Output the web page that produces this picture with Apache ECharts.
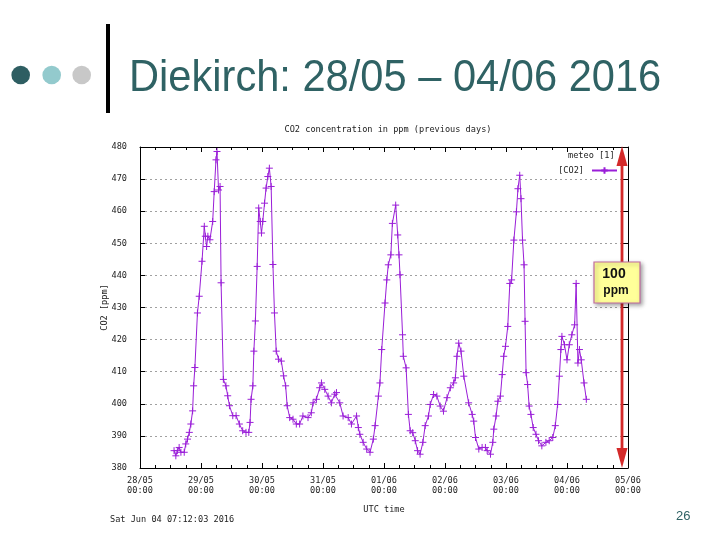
<!DOCTYPE html>
<html>
<head>
<meta charset="utf-8">
<script src="https://cdn.jsdelivr.net/npm/echarts@6/dist/echarts.min.js"></script>
<style>
html,body{margin:0;padding:0;background:#fff;}
#chart{width:720px;height:540px;}
</style>
</head>
<body>
<div id="chart"></div>
<script>
// Hours since 28/05 00:00 UTC
var hours = [
  13.4,14.1,14.7,15.4,16.1,17.4,18.0,18.7,19.4,20.0,20.7,21.1,21.6,22.6,23.3,24.4,25.3,25.7,26.2,26.7,
  27.5,28.6,29.2,29.9,30.3,30.9,31.5,31.9,32.8,33.8,34.5,35.2,36.5,37.8,39.1,40.4,41.7,42.8,43.3,43.7,
  44.4,44.8,45.4,46.1,46.7,47.3,47.8,48.3,49.0,49.6,50.3,50.9,51.6,52.3,52.9,53.6,54.5,55.6,56.5,57.3,
  57.9,58.9,60.2,61.5,
  62.8,64.1,66.1,67.4,68.1,69.4,70.7,71.4,72.7,74.0,75.3,76.6,77.3,78.6,79.9,81.9,83.2,85.2,85.9,86.5,
  87.8,89.2,90.5,91.8,92.5,93.8,94.4,95.1,96.4,97.1,97.7,98.7,99.3,100.6,101.4,101.9,102.3,103.3,103.6,104.7,
  105.6,106.3,107.3,108.3,109.2,110.2,111.3,112.2,113.5,114.2,115.5,116.8,118.1,119.4,120.8,122.1,123.4,124.1,124.7,125.4,
  126.3,127.4,129.3,130.7,131.3,132.0,133.3,134.6,135.9,136.6,137.9,138.8,139.2,140.1,140.8,141.8,142.5,143.1,143.8,144.7,
  145.5,146.2,147.1,148.1,148.7,149.4,149.9,150.5,151.1,151.5,151.9,152.5,153.1,153.8,154.7,155.8,156.8,158.1,159.7,161.0,
  162.4,163.4,164.3,165.0,165.6,166.0,167.0,168.0,168.9,169.9,171.0,171.6,172.3,172.9,173.6,174.7,175.6
];
// CO2 concentration [ppm]
var co2 = [
  385.4,383.8,385.4,386.4,384.9,384.9,387.5,389,391.1,393.7,397.8,405.6,411.3,428.3,433.5,444.4,455.3,452.2,449,452.2,
  451.1,456.8,466.1,476,478.6,466.6,467.7,437.7,407.6,405.6,402.5,399.4,396.3,396.3,393.7,391.6,391.1,391.1,394.2,401.4,
  405.6,416.4,425.8,442.8,461,456.8,453.2,456.8,462.5,467.2,470.8,473.4,467.7,443.4,428.3,416.4,413.9,413.3,408.7,405.6,
  399.4,395.7,395.2,393.7,
  393.7,396.2,395.7,397.2,400.3,401.4,405,406.5,404.5,402.4,400.3,403,403.5,400.3,396.2,395.7,393.7,396.2,392.6,390.5,
  388,385.9,384.9,389,393.2,402.4,406.5,416.9,431.4,438.6,443.3,446.4,456.2,461.9,452.6,446.4,440.2,421.5,414.8,411.2,
  396.7,391.6,391,388.5,385.4,384.3,388,393.2,396.2,399.8,402.9,402.4,399.3,397.7,401.9,405,406.5,408.1,414.8,418.9,
  416.4,408.6,400.3,396.7,394.6,389.5,385.9,386.4,386.4,385.4,384.3,388,392.1,396.2,400.8,402.4,409.1,414.8,417.9,424.1,
  437.5,438.6,451,459.8,467,471.2,463.9,451,443.3,425.7,409.7,406,399.3,396.7,392.6,390.5,388.5,386.9,388,388.5,
  389.5,393.2,399.8,408.6,416.9,421,418.4,413.7,418.4,421.5,424.6,437.5,412.7,416.9,413.7,406.5,401.4
];
// x tick labels (one per day)
var dayLabels = ['28/05','29/05','30/05','31/05','01/06','02/06','03/06','04/06','05/06'];
var yMin = 380, yMax = 480, yStep = 10;
var xMax = 192, xStep = 24;

var seriesData = hours.map(function (h, i) { return [h, co2[i]]; });

var mono = 'DejaVu Sans Mono';
var fs = 8.6;
var purple = '#9a1ed8';
var teal = '#2f6264';

var chart = echarts.init(document.getElementById('chart'), null, {renderer: 'canvas'});
chart.setOption({
  backgroundColor: '#ffffff',
  animation: false,
  title: {
    text: 'CO2 concentration in ppm (previous days)',
    left: 383, top: 120, textAlign: 'center',
    textStyle: {fontFamily: mono, fontSize: fs, fontWeight: 'normal', color: '#222'}
  },
  legend: {
    data: ['[CO2]'],
    right: 97, top: 161, align: 'right', itemWidth: 25, itemHeight: 8, itemGap: 4,
    textStyle: {fontFamily: mono, fontSize: fs, color: '#222', padding: [0, 3, 0, 0]}
  },
  grid: {left: 140, right: 92, top: 147, bottom: 72, containLabel: false},
  xAxis: [{
    type: 'value', min: 0, max: xMax, interval: xStep,
    position: 'bottom',
    axisLine: {show: true, onZero: false, lineStyle: {color: '#000', width: 1}},
    axisTick: {show: true, inside: true, length: 5, lineStyle: {color: '#000'}},
    minorTick: {show: true, splitNumber: 4, length: 3, lineStyle: {color: '#000'}},
    splitLine: {show: false},
    axisLabel: {
      fontFamily: mono, fontSize: fs, color: '#222', margin: 8, lineHeight: 10,
      formatter: function (v) { var i = Math.round(v / xStep); return dayLabels[i] + '\n00:00'; }
    },
    name: 'UTC time', nameLocation: 'middle', nameGap: 37, nameMoveOverlap: false,
    nameTextStyle: {fontFamily: mono, fontSize: fs, color: '#222'}
  }, {
    type: 'value', min: 0, max: xMax, interval: xStep,
    position: 'top',
    axisLine: {show: true, onZero: false, lineStyle: {color: '#000', width: 1}},
    axisTick: {show: true, inside: true, length: 5, lineStyle: {color: '#000'}},
    minorTick: {show: true, splitNumber: 4, length: 3, lineStyle: {color: '#000'}},
    splitLine: {show: false},
    axisLabel: {show: false}
  }],
  yAxis: [{
    type: 'value', min: yMin, max: yMax, interval: yStep,
    position: 'left',
    axisLine: {show: true, onZero: false, lineStyle: {color: '#000', width: 1}},
    axisTick: {show: true, inside: true, length: 5, lineStyle: {color: '#000'}},
    splitLine: {show: true, lineStyle: {color: '#a0a0a0', type: [2, 3], width: 1}},
    axisLabel: {fontFamily: mono, fontSize: fs, color: '#222', margin: 13},
    name: 'CO2 [ppm]', nameLocation: 'middle', nameGap: 31, nameRotate: 90, nameMoveOverlap: false,
    nameTextStyle: {fontFamily: mono, fontSize: fs, color: '#222'}
  }, {
    type: 'value', min: yMin, max: yMax, interval: yStep,
    position: 'right',
    axisLine: {show: true, onZero: false, lineStyle: {color: '#000', width: 1}},
    axisTick: {show: true, inside: true, length: 5, lineStyle: {color: '#000'}},
    splitLine: {show: false},
    axisLabel: {show: false}
  }],
  series: [{
    name: '[CO2]',
    type: 'line',
    xAxisIndex: 0, yAxisIndex: 0,
    data: seriesData,
    showSymbol: true, showAllSymbol: true,
    symbol: 'path://M0,4L8,4M4,0L4,8',
    symbolSize: 7,
    lineStyle: {color: purple, width: 1},
    itemStyle: {color: purple, borderColor: purple, borderWidth: 1},
    z: 3
  }],
  graphic: [
    // slide decoration
    {type: 'circle', shape: {cx: 20.7, cy: 75, r: 9.3}, style: {fill: '#2e5e62'}},
    {type: 'circle', shape: {cx: 51.7, cy: 75, r: 9.3}, style: {fill: '#93cacd'}},
    {type: 'circle', shape: {cx: 81.7, cy: 75, r: 9.3}, style: {fill: '#c8c8c8'}},
    {type: 'rect', shape: {x: 106, y: 24, width: 4, height: 89}, style: {fill: '#000'}},
    {type: 'text', x: 129, y: 101, scaleX: 0.925,
      style: {text: 'Diekirch: 28/05 \u2013 04/06 2016', fill: teal, font: '45px "Liberation Sans", Arial, sans-serif', verticalAlign: 'bottom'}},
    {type: 'text', left: 676, top: 510,
      style: {text: '26', fill: teal, font: '13px "Liberation Sans", Arial, sans-serif'}},
    // gnuplot extras
    {type: 'text', left: 568, top: 151,
      style: {text: 'meteo [1]', fill: '#222', font: fs + 'px "DejaVu Sans Mono", monospace'}},
    {type: 'text', left: 110, top: 515,
      style: {text: 'Sat Jun 04 07:12:03 2016', fill: '#222', font: fs + 'px "DejaVu Sans Mono", monospace'}},
    // red double arrow with label box
    {type: 'rect', z: 100, shape: {x: 620.6, y: 162, width: 2.8, height: 290}, style: {fill: '#d42a2a'}},
    {type: 'polygon', z: 100, shape: {points: [[622, 146], [616.5, 166], [627.5, 166]]}, style: {fill: '#d42a2a'}},
    {type: 'polygon', z: 100, shape: {points: [[622, 468], [616.5, 448], [627.5, 448]]}, style: {fill: '#d42a2a'}},
    {type: 'rect', z: 101, shape: {x: 594, y: 262, width: 46, height: 41},
      style: {fill: '#ffff99', stroke: '#c06aa0', lineWidth: 1.2, shadowBlur: 4, shadowOffsetX: 2, shadowOffsetY: 2, shadowColor: 'rgba(0,0,0,0.35)'}},
    {type: 'text', z: 102, x: 614, y: 274,
      style: {text: '100', fill: '#111', font: 'bold 14px "Liberation Sans", Arial, sans-serif', align: 'center', verticalAlign: 'middle'}},
    {type: 'text', z: 102, x: 616, y: 291,
      style: {text: 'ppm', fill: '#111', font: 'bold 12px "Liberation Sans", Arial, sans-serif', align: 'center', verticalAlign: 'middle'}}
  ]
});
</script>
</body>
</html>
